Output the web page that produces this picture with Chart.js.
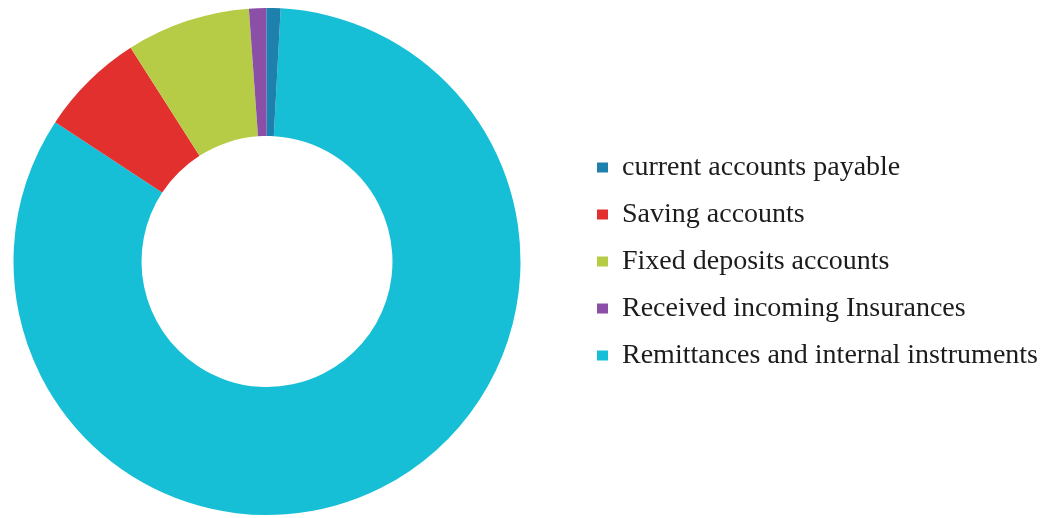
<!DOCTYPE html>
<html>
<head>
<meta charset="utf-8">
<title>Deposit structure</title>
<script src="https://cdn.jsdelivr.net/npm/chart.js@4"></script>
<style>
  html, body { margin: 0; padding: 0; background: #ffffff; }
  #wrap { width: 1043px; height: 518px; }
</style>
</head>
<body>
<div id="wrap"><canvas id="chart" width="1043" height="518"></canvas></div>
<script>
// Categories in legend order
const categories = [
  'current accounts payable',
  'Saving accounts',
  'Fixed deposits accounts',
  'Received incoming Insurances',
  'Remittances and internal instruments'
];
// Share of each category, percent
const shares = [0.9, 6.7, 7.9, 1.1, 83.4];
const colors = ['#1e80ad', '#e1302d', '#b7cc46', '#8b4fa7', '#17bfd6'];
// Order in which the slices are laid out clockwise around the ring
const drawOrder = [4, 1, 2, 3, 0];

const ringLabels = drawOrder.map(i => categories[i]);
const ringValues = drawOrder.map(i => shares[i]);
const ringColors = drawOrder.map(i => colors[i]);

// Leave a wider gap between the ring and the legend column
const ringGap = {
  id: 'ringGap',
  afterLayout(chart) {
    const area = chart.chartArea;
    area.left -= 44;
    area.width = area.right - area.left;
  }
};

new Chart(document.getElementById('chart'), {
  type: 'doughnut',
  data: {
    labels: ringLabels,
    datasets: [{
      data: ringValues,
      backgroundColor: ringColors,
      borderWidth: 0,
      hoverOffset: 0
    }]
  },
  options: {
    responsive: false,
    devicePixelRatio: 1,
    animation: false,
    cutout: '49.5%',
    rotation: 3.1,
    layout: { padding: { left: 0, right: -5, top: 8, bottom: 3 } },
    plugins: {
      tooltip: { enabled: false },
      legend: {
        position: 'right',
        align: 'center',
        labels: {
          boxWidth: 11,
          boxHeight: 10,
          padding: 19,
          color: '#1c1c1c',
          font: { family: '"Liberation Serif", "Times New Roman", serif', size: 28 },
          sort: (a, b) => drawOrder[a.index] - drawOrder[b.index]
        }
      }
    }
  },
  plugins: [ringGap]
});
</script>
</body>
</html>
